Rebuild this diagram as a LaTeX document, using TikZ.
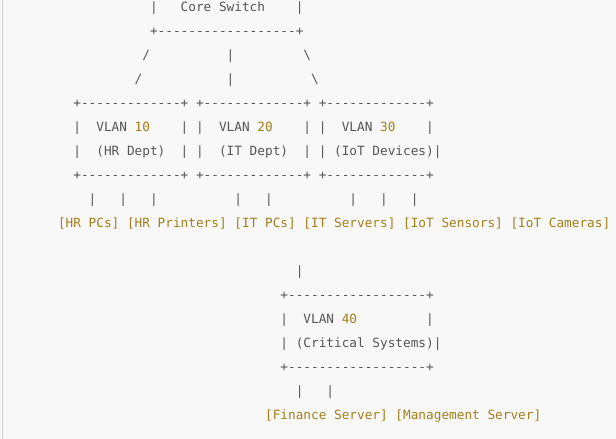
\documentclass[tikz,border=0pt]{standalone}
\usepackage{fontspec}
\newfontfamily\asciimono[WordSpace={1,0,0}]{DejaVu Sans Mono}
\definecolor{bgc}{HTML}{F8F8F8}
\definecolor{edgec}{HTML}{D0D0D0}
\definecolor{txtc}{HTML}{555555}
\definecolor{goldc}{HTML}{A47E1B}
\tikzset{
  txt/.style={anchor=base west, inner sep=0pt, outer sep=0pt, text=txtc,
    font=\asciimono\fontsize{12.74}{24}\selectfont},
  gold/.style={txt, text=goldc}
}
\newcommand{\px}[1]{58+#1*7.67}
\newcommand{\py}[1]{-(11.5+24*#1)}
\begin{document}
\begin{tikzpicture}[x=1pt,y=1pt]
\fill[bgc] (0,0) rectangle (616,-439);
\useasboundingbox (0,0) rectangle (616,-439);
\draw[edgec, line width=1pt] (2.8,0) -- (2.8,-439);
% Core switch
\node[txt] (cs1) at ({\px{12}},{\py{0}}) {|};
\node[txt] (cs) at ({\px{16}},{\py{0}}) {Core Switch};
\node[txt] (cs2) at ({\px{31}},{\py{0}}) {|};
\node[txt] (csb) at ({\px{12}},{\py{1}}) {+------------------+};
% links
\node[txt] (l1a) at ({\px{11}},{\py{2}}) {/};
\node[txt] (l2a) at ({\px{22}},{\py{2}}) {|};
\node[txt] (l3a) at ({\px{32}},{\py{2}}) {\textbackslash};
\node[txt] (l1b) at ({\px{10}},{\py{3}}) {/};
\node[txt] (l2b) at ({\px{22}},{\py{3}}) {|};
\node[txt] (l3b) at ({\px{33}},{\py{3}}) {\textbackslash};
% VLAN box tops
\node[txt] (v1t) at ({\px{2}},{\py{4}}) {+-------------+};
\node[txt] (v2t) at ({\px{18}},{\py{4}}) {+-------------+};
\node[txt] (v3t) at ({\px{34}},{\py{4}}) {+-------------+};
% VLAN row
\node[txt] (v1a) at ({\px{2}},{\py{5}}) {|};
\node[txt] (v1n) at ({\px{5}},{\py{5}}) {VLAN};
\node[gold] (v1i) at ({\px{10}},{\py{5}}) {10};
\node[txt] (v1b) at ({\px{16}},{\py{5}}) {|};
\node[txt] (v2a) at ({\px{18}},{\py{5}}) {|};
\node[txt] (v2n) at ({\px{21}},{\py{5}}) {VLAN};
\node[gold] (v2i) at ({\px{26}},{\py{5}}) {20};
\node[txt] (v2b) at ({\px{32}},{\py{5}}) {|};
\node[txt] (v3a) at ({\px{34}},{\py{5}}) {|};
\node[txt] (v3n) at ({\px{37}},{\py{5}}) {VLAN};
\node[gold] (v3i) at ({\px{42}},{\py{5}}) {30};
\node[txt] (v3b) at ({\px{48}},{\py{5}}) {|};
% dept row
\node[txt] (d1a) at ({\px{2}},{\py{6}}) {|};
\node[txt] (d1n) at ({\px{5}},{\py{6}}) {(HR Dept)};
\node[txt] (d1b) at ({\px{16}},{\py{6}}) {|};
\node[txt] (d2a) at ({\px{18}},{\py{6}}) {|};
\node[txt] (d2n) at ({\px{21}},{\py{6}}) {(IT Dept)};
\node[txt] (d2b) at ({\px{32}},{\py{6}}) {|};
\node[txt] (d3a) at ({\px{34}},{\py{6}}) {|};
\node[txt] (d3n) at ({\px{36}},{\py{6}}) {(IoT Devices)};
\node[txt] (d3b) at ({\px{49}},{\py{6}}) {|};
% VLAN box bottoms
\node[txt] (v1u) at ({\px{2}},{\py{7}}) {+-------------+};
\node[txt] (v2u) at ({\px{18}},{\py{7}}) {+-------------+};
\node[txt] (v3u) at ({\px{34}},{\py{7}}) {+-------------+};
% drops
\node[txt] (p1) at ({\px{4}},{\py{8}}) {|};
\node[txt] (p2) at ({\px{8}},{\py{8}}) {|};
\node[txt] (p3) at ({\px{12}},{\py{8}}) {|};
\node[txt] (p4) at ({\px{23}},{\py{8}}) {|};
\node[txt] (p5) at ({\px{27}},{\py{8}}) {|};
\node[txt] (p6) at ({\px{38}},{\py{8}}) {|};
\node[txt] (p7) at ({\px{42}},{\py{8}}) {|};
\node[txt] (p8) at ({\px{46}},{\py{8}}) {|};
% devices
\node[gold] (e1) at ({\px{0}},{\py{9}}) {[HR PCs]};
\node[gold] (e2) at ({\px{9}},{\py{9}}) {[HR Printers]};
\node[gold] (e3) at ({\px{23}},{\py{9}}) {[IT PCs]};
\node[gold] (e4) at ({\px{32}},{\py{9}}) {[IT Servers]};
\node[gold] (e5) at ({\px{45}},{\py{9}}) {[IoT Sensors]};
\node[gold] (e6) at ({\px{59}},{\py{9}}) {[IoT Cameras]};
% VLAN 40
\node[txt] (q0) at ({\px{31}},{\py{11}}) {|};
\node[txt] (v4t) at ({\px{29}},{\py{12}}) {+------------------+};
\node[txt] (v4a) at ({\px{29}},{\py{13}}) {|};
\node[txt] (v4n) at ({\px{32}},{\py{13}}) {VLAN};
\node[gold] (v4i) at ({\px{37}},{\py{13}}) {40};
\node[txt] (v4b) at ({\px{48}},{\py{13}}) {|};
\node[txt] (d4a) at ({\px{29}},{\py{14}}) {|};
\node[txt] (d4n) at ({\px{31}},{\py{14}}) {(Critical Systems)};
\node[txt] (d4b) at ({\px{49}},{\py{14}}) {|};
\node[txt] (v4u) at ({\px{29}},{\py{15}}) {+------------------+};
\node[txt] (q1) at ({\px{31}},{\py{16}}) {|};
\node[txt] (q2) at ({\px{35}},{\py{16}}) {|};
\node[gold] (f1) at ({\px{27}},{\py{17}}) {[Finance Server]};
\node[gold] (f2) at ({\px{44}},{\py{17}}) {[Management Server]};
\end{tikzpicture}
\end{document}
